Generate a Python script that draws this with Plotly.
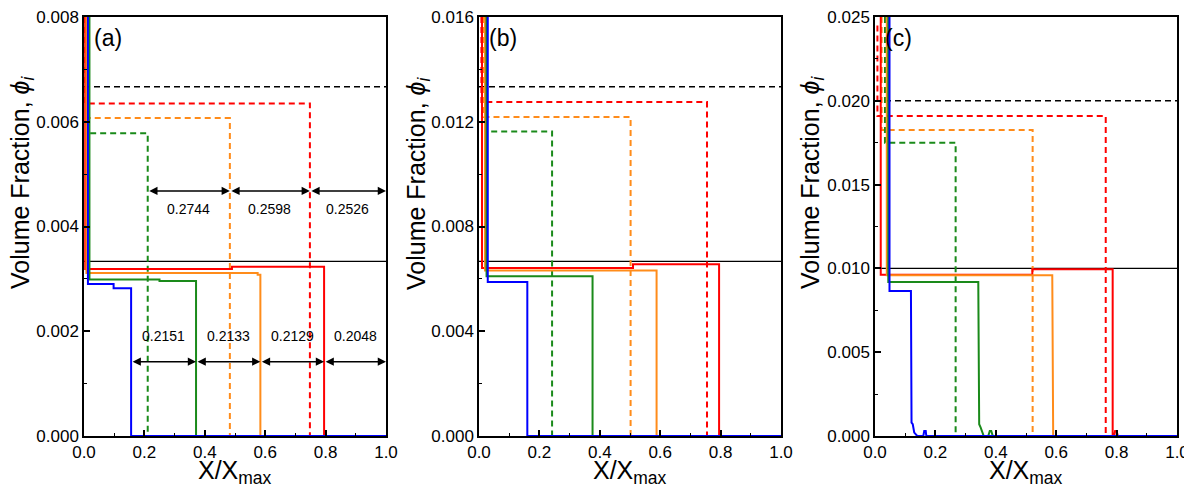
import plotly.graph_objects as go

# ---------------- data ----------------
x_ticks = [0.0, 0.2, 0.4, 0.6, 0.8, 1.0]

# Panel (a)
a_bulk = 0.003333          # black solid
a_bulk2 = 0.006667         # black dashed
a_red_x = [0.004, 0.004, 0.49, 0.49, 0.795, 0.795, 1.0]
a_red_y = [0.008, 0.00319, 0.00319, 0.00323, 0.00323, 0.0, 0.0]
a_orange_x = [0.008, 0.008, 0.575, 0.575, 0.584, 0.584, 1.0]
a_orange_y = [0.008, 0.00311, 0.00311, 0.00308, 0.00308, 0.0, 0.0]
a_green_x = [0.018, 0.018, 0.25, 0.25, 0.371, 0.371, 1.0]
a_green_y = [0.008, 0.00299, 0.00299, 0.00296, 0.00296, 0.0, 0.0]
a_blue_x = [0.013, 0.013, 0.098, 0.098, 0.156, 0.156, 1.0]
a_blue_y = [0.008, 0.00290, 0.00290, 0.00282, 0.00282, 0.0, 0.0]
a_red_dash_x = [0.004, 0.004, 0.748, 0.748]
a_red_dash_y = [0.008, 0.00635, 0.00635, 0.0]
a_orange_dash_x = [0.006, 0.006, 0.483, 0.483]
a_orange_dash_y = [0.008, 0.00607, 0.00607, 0.0]
a_green_dash_x = [0.008, 0.008, 0.211, 0.211]
a_green_dash_y = [0.008, 0.00578, 0.00578, 0.0]
a_upper_bounds = [0.211, 0.483, 0.748, 1.0]
a_upper_labels = ["0.2744", "0.2598", "0.2526"]
a_upper_y = 0.00468
a_lower_bounds = [0.156, 0.371, 0.584, 0.795, 1.0]
a_lower_labels = ["0.2151", "0.2133", "0.2129", "0.2048"]
a_lower_y = 0.00142

# Panel (b)
b_bulk = 0.006667
b_bulk2 = 0.013333
b_red_x = [0.010, 0.010, 0.51, 0.51, 0.795, 0.795, 1.0]
b_red_y = [0.016, 0.00642, 0.00642, 0.00656, 0.00656, 0.0, 0.0]
b_orange_x = [0.020, 0.020, 0.588, 0.588, 1.0]
b_orange_y = [0.016, 0.00632, 0.00632, 0.0, 0.0]
b_green_x = [0.025, 0.025, 0.376, 0.376, 1.0]
b_green_y = [0.016, 0.00610, 0.00610, 0.0, 0.0]
b_blue_x = [0.029, 0.029, 0.160, 0.160, 1.0]
b_blue_y = [0.016, 0.00588, 0.00588, 0.0, 0.0]
b_red_dash_x = [0.008, 0.008, 0.755, 0.755]
b_red_dash_y = [0.016, 0.01275, 0.01275, 0.0]
b_orange_dash_x = [0.015, 0.015, 0.502, 0.502]
b_orange_dash_y = [0.016, 0.01218, 0.01218, 0.0]
b_green_dash_x = [0.022, 0.022, 0.242, 0.242]
b_green_dash_y = [0.016, 0.01163, 0.01163, 0.0]

# Panel (c)
c_bulk = 0.010
c_bulk2 = 0.020
c_red_x = [0.019, 0.019, 0.521, 0.521, 0.787, 0.787, 0.792, 0.795, 0.800, 0.804, 1.0]
c_red_y = [0.025, 0.00962, 0.00962, 0.00995, 0.00995, 0.0, 0.0, 0.0003, 0.0003, 0.0, 0.0]
c_orange_x = [0.039, 0.039, 0.587, 0.590, 1.0]
c_orange_y = [0.025, 0.00959, 0.00959, 0.0, 0.0]
c_green_x = [0.044, 0.044, 0.342, 0.345, 0.350, 0.360, 0.375, 0.380, 0.385, 0.390, 1.0]
c_green_y = [0.025, 0.00919, 0.00919, 0.0007, 0.0005, 0.0, 0.0, 0.0003, 0.0003, 0.0, 0.0]
c_blue_x = [0.048, 0.048, 0.119, 0.121, 0.125, 0.130, 0.140, 0.160, 0.163, 0.168, 0.170, 1.0]
c_blue_y = [0.025, 0.00865, 0.00865, 0.0008, 0.0007, 0.0002, 0.0, 0.0, 0.0003, 0.0003, 0.0, 0.0]
c_red_dash_x = [0.008, 0.008, 0.764, 0.764]
c_red_dash_y = [0.0245, 0.01909, 0.01909, 0.0]
c_orange_dash_x = [0.022, 0.022, 0.522, 0.522]
c_orange_dash_y = [0.025, 0.01826, 0.01826, 0.0]
c_green_dash_x = [0.033, 0.033, 0.267, 0.267]
c_green_dash_y = [0.025, 0.0175, 0.0175, 0.0]

# ---------------- styling ----------------
RED = "#FF0000"
ORANGE = "#FF8C1A"
GREEN = "#1A8A1A"
BLUE = "#0000FF"
FONT = "Liberation Sans, Arial, sans-serif"
DASH = "6px,4px"

W, H = 1192, 487
OFF = 8              # the page body is offset by 8px


def px_x(sx):
    return (sx - OFF) / W


def px_y(sy):
    return 1 - (sy - OFF) / H


panels = [
    dict(name="(a)", ymax=0.008, dtick=0.002,
         bulk=a_bulk, bulk2=a_bulk2,
         solids=[(a_red_x, a_red_y, RED), (a_orange_x, a_orange_y, ORANGE),
                 (a_green_x, a_green_y, GREEN), (a_blue_x, a_blue_y, BLUE)],
         dashes=[(a_red_dash_x, a_red_dash_y, RED), (a_orange_dash_x, a_orange_dash_y, ORANGE),
                 (a_green_dash_x, a_green_dash_y, GREEN)],
         xdom=[px_x(84), px_x(386)], ytitle_x=px_x(22)),
    dict(name="(b)", ymax=0.016, dtick=0.004,
         bulk=b_bulk, bulk2=b_bulk2,
         solids=[(b_red_x, b_red_y, RED), (b_orange_x, b_orange_y, ORANGE),
                 (b_green_x, b_green_y, GREEN), (b_blue_x, b_blue_y, BLUE)],
         dashes=[(b_red_dash_x, b_red_dash_y, RED), (b_orange_dash_x, b_orange_dash_y, ORANGE),
                 (b_green_dash_x, b_green_dash_y, GREEN)],
         xdom=[px_x(479), px_x(781)], ytitle_x=px_x(418)),
    dict(name="(c)", ymax=0.025, dtick=0.005,
         bulk=c_bulk, bulk2=c_bulk2,
         solids=[(c_red_x, c_red_y, RED), (c_orange_x, c_orange_y, ORANGE),
                 (c_green_x, c_green_y, GREEN), (c_blue_x, c_blue_y, BLUE)],
         dashes=[(c_red_dash_x, c_red_dash_y, RED), (c_orange_dash_x, c_orange_dash_y, ORANGE),
                 (c_green_dash_x, c_green_dash_y, GREEN)],
         xdom=[px_x(875), px_x(1177)], ytitle_x=px_x(812)),
]

ydom = [px_y(436), px_y(17)]

fig = go.Figure()
annotations = []
layout_axes = {}

for i, p in enumerate(panels):
    k = "" if i == 0 else str(i + 1)
    xa, ya = "x" + k, "y" + k
    # black reference lines
    fig.add_trace(go.Scatter(x=[0, 1], y=[p["bulk2"], p["bulk2"]], mode="lines",
                             line=dict(color="black", width=1.5, dash=DASH),
                             xaxis=xa, yaxis=ya, showlegend=False))
    fig.add_trace(go.Scatter(x=[0, 1], y=[p["bulk"], p["bulk"]], mode="lines",
                             line=dict(color="black", width=1.3),
                             xaxis=xa, yaxis=ya, showlegend=False))
    for xs, ys, col in p["dashes"]:
        fig.add_trace(go.Scatter(x=xs, y=ys, mode="lines",
                                 line=dict(color=col, width=2, dash=DASH),
                                 xaxis=xa, yaxis=ya, showlegend=False))
    for xs, ys, col in p["solids"]:
        fig.add_trace(go.Scatter(x=xs, y=ys, mode="lines",
                                 line=dict(color=col, width=2),
                                 xaxis=xa, yaxis=ya, showlegend=False))

    common = dict(showline=True, linecolor="black", linewidth=1.5, mirror=True,
                  ticks="inside", ticklen=6, tickwidth=1.5, tickcolor="black",
                  showgrid=False, zeroline=False, automargin=False,
                  ticklabeloverflow="allow",
                  tickfont=dict(family=FONT, size=17, color="black"))
    layout_axes["xaxis" + k] = dict(common, domain=p["xdom"], range=[0, 1],
                                    tickvals=x_ticks, tickformat=".1f", anchor=ya,
                                    minor=dict(dtick=0.1, ticks="inside", ticklen=3,
                                               tickwidth=1.2, tickcolor="black"))
    layout_axes["yaxis" + k] = dict(common, domain=ydom, range=[0, p["ymax"]],
                                    dtick=p["dtick"], tick0=0, tickformat=".3f", anchor=xa,
                                    minor=dict(dtick=p["dtick"] / 2, ticks="inside", ticklen=3,
                                               tickwidth=1.2, tickcolor="black"))
    # panel label
    annotations.append(dict(x=0.025, y=0.985, xref=xa + " domain", yref=ya + " domain",
                            text=p["name"], showarrow=False, xanchor="left", yanchor="top",
                            font=dict(family=FONT, size=23, color="black")))
    # y title
    annotations.append(dict(x=p["ytitle_x"], y=px_y(183), xref="paper", yref="paper",
                            text="Volume Fraction, <i>ϕ</i><sub><i>i</i></sub>",
                            textangle=-90, showarrow=False, xanchor="center", yanchor="middle",
                            font=dict(family=FONT, size=25, color="black")))
    # x title
    annotations.append(dict(x=(p["xdom"][0] + p["xdom"][1]) / 2, y=px_y(472),
                            xref="paper", yref="paper",
                            text="X/X<sub>max</sub>", showarrow=False,
                            xanchor="center", yanchor="middle",
                            font=dict(family=FONT, size=25, color="black")))

# distance arrows in panel (a)
def add_arrows(bounds, labels, yv, label_y):
    for j, lab in enumerate(labels):
        x0, x1 = bounds[j], bounds[j + 1]
        annotations.append(dict(x=x1, y=yv, ax=x0, ay=yv, xref="x", yref="y",
                                axref="x", ayref="y", text="", showarrow=True,
                                arrowhead=2, startarrowhead=2, arrowside="end+start",
                                arrowsize=1.1, startarrowsize=1.1, arrowwidth=1.5,
                                arrowcolor="black", standoff=0, startstandoff=0))
        annotations.append(dict(x=(x0 + x1) / 2, y=label_y, xref="x", yref="y",
                                text=lab, showarrow=False,
                                font=dict(family=FONT, size=14, color="black")))

add_arrows(a_upper_bounds, a_upper_labels, a_upper_y, 0.00433)
add_arrows(a_lower_bounds, a_lower_labels, a_lower_y, 0.00190)

fig.update_layout(width=W, height=H, margin=dict(l=0, r=0, t=0, b=0),
                  plot_bgcolor="white", paper_bgcolor="white",
                  annotations=annotations, **layout_axes)

fig.write_html("out.html")
